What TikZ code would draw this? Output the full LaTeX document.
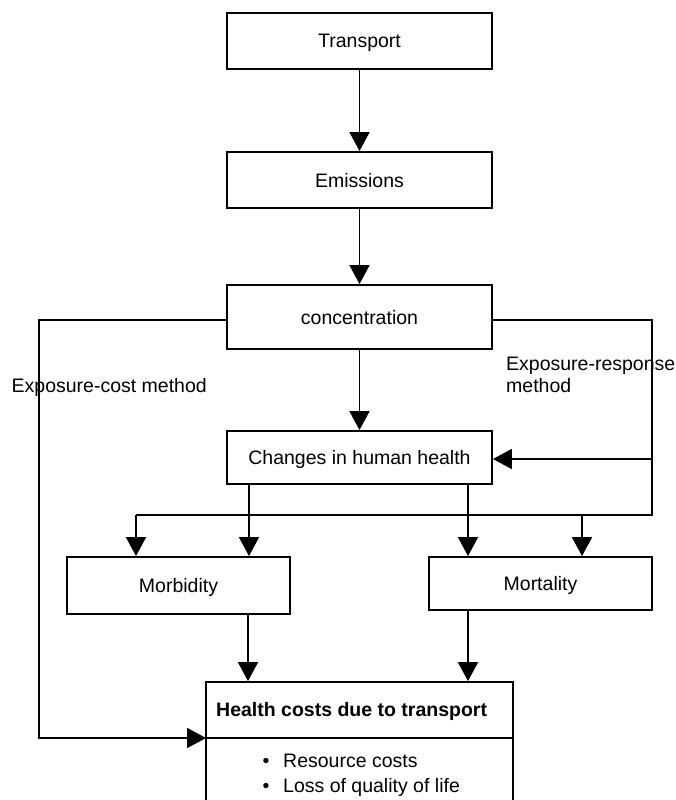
\documentclass[tikz,border=0pt]{standalone}
\usepackage{fontspec}
\setmainfont{Liberation Sans}
\usetikzlibrary{arrows.meta}
\begin{document}
\begin{tikzpicture}[x=1pt,y=-1pt,
  txt/.style={font=\fontsize{19.5}{22}\selectfont},
  box/.style={txt, draw, line width=1.9pt, inner sep=0pt, text height=14pt, text depth=0pt},
  lbl/.style={txt, inner sep=0pt},
  link/.style={line width=1.9pt},
  arr/.style={line width=1.9pt, -{Triangle[width=20pt,length=19pt]}}]
\useasboundingbox (0,0) rectangle (675,800);
\clip (0,0) rectangle (675,800);

% chain of boxes
\node[box, minimum width=265pt, minimum height=56pt] (transport) at (359.5,41) {Transport};
\node[box, minimum width=265pt, minimum height=56pt] (emissions) at (359.5,180) {Emissions};
\node[box, minimum width=265pt, minimum height=64pt] (conc) at (359.5,317) {concentration};
\node[box, minimum width=265pt, minimum height=53pt] (changes) at (359.5,457.5) {Changes in human health};
\node[box, minimum width=223pt, minimum height=57pt] (morb) at (178.5,585.5) {Morbidity};
\node[box, minimum width=223pt, minimum height=53pt] (mort) at (540.5,583.5) {Mortality};

% result box, running past the lower edge
\node[box, minimum width=307pt, minimum height=148pt] (health) at (359.5,756) {};
\coordinate (hdl) at (206,738);
\coordinate (hdr) at (513,738);
\draw[link] (hdl) -- (hdr);
\node[lbl, font=\fontsize{19.5}{22}\selectfont\bfseries, anchor=base west] (htitle) at (216,716) {Health costs due to transport};
\node[lbl, anchor=base] (b1) at (266,767) {•};
\node[lbl, anchor=base west] (t1) at (283,767) {Resource costs};
\node[lbl, anchor=base] (b2) at (266,792) {•};
\node[lbl, anchor=base west] (t2) at (283,792) {Loss of quality of life};

% method labels
\node[lbl, anchor=base west] (costm) at (11.5,392) {Exposure-cost method};
\node[lbl, anchor=base west, align=left] (respm) at (506,392.5) {Exposure-response\\method};

% helper points for the routed lines
\coordinate (cL) at (39,320);
\coordinate (cR) at (652,320);
\coordinate (rMid) at (652,459);
\coordinate (rLow) at (652,515);
\coordinate (bL) at (136,515);
\coordinate (bR) at (582,515);
\coordinate (xa) at (249,0);
\coordinate (xb) at (468,0);
\coordinate (xc) at (248,0);

% main chain
\draw[arr] (transport) -- (emissions);
\draw[arr] (emissions) -- (conc);
\draw[arr] (conc) -- (changes);
\draw[arr] (xa |- changes.south) -- (xa |- morb.north);
\draw[arr] (xb |- changes.south) -- (xb |- mort.north);
\draw[arr] (xc |- morb.south) -- (xc |- health.north);
\draw[arr] (xb |- mort.south) -- (xb |- health.north);

% exposure-cost route
\draw[arr] (conc.west |- cL) -- (cL) -- (cL |- hdl) -- (hdl);

% exposure-response route
\draw[link] (conc.east |- cR) -- (cR) -- (rLow) -- (bL);
\draw[arr] (rMid) -- (changes.east |- rMid);
\draw[arr] (bL) -- (bL |- morb.north);
\draw[arr] (bR) -- (bR |- mort.north);
\end{tikzpicture}
\end{document}
